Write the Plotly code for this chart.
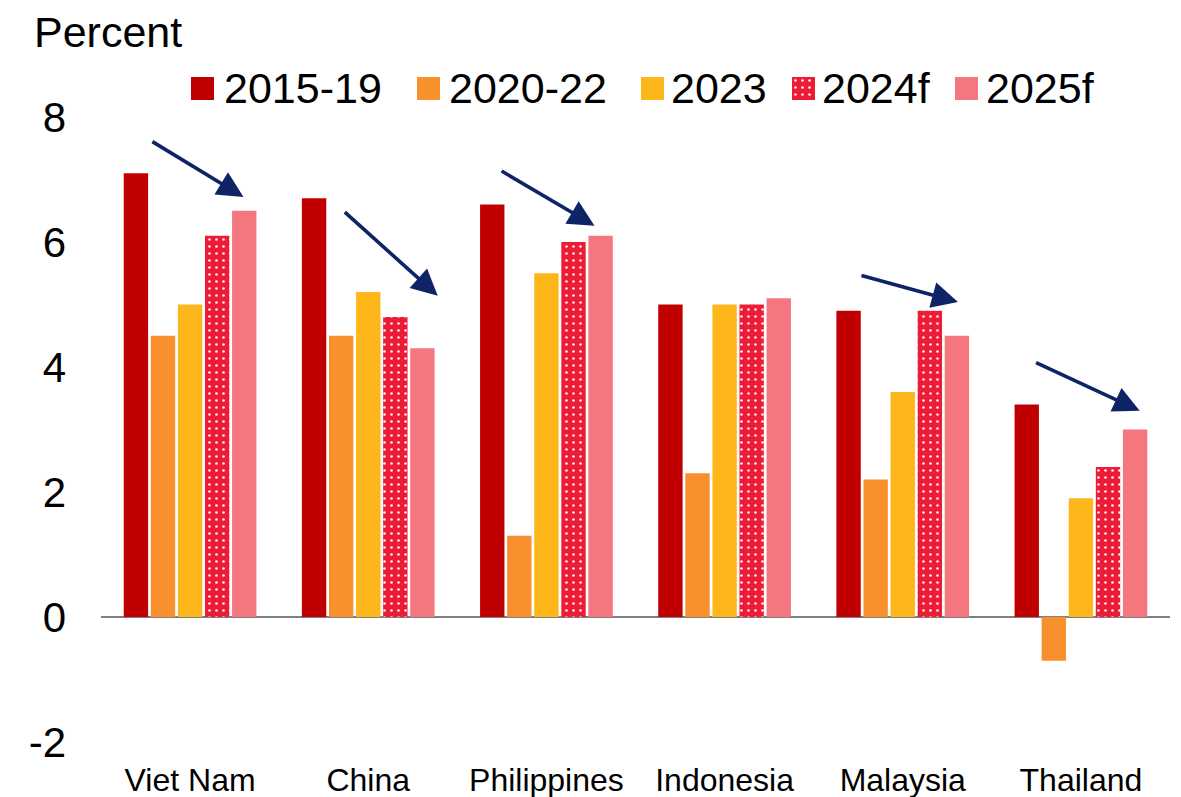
import plotly.graph_objects as go

countries = ["Viet Nam", "China", "Philippines", "Indonesia", "Malaysia", "Thailand"]
series_names = ["2015-19", "2020-22", "2023", "2024f", "2025f"]
v_2015_19 = [7.1, 6.7, 6.6, 5.0, 4.9, 3.4]
v_2020_22 = [4.5, 4.5, 1.3, 2.3, 2.2, -0.7]
v_2023 = [5.0, 5.2, 5.5, 5.0, 3.6, 1.9]
v_2024f = [6.1, 4.8, 6.0, 5.0, 4.9, 2.4]
v_2025f = [6.5, 4.3, 6.1, 5.1, 4.5, 3.0]
y_ticks = [-2, 0, 2, 4, 6, 8]
y_tick_labels = ["-2", "0", "2", "4", "6", "8"]

# arrows: (category index, start offset, start y, end offset, end y)
arrows = [
    (0, -0.22, 7.62, 0.30, 6.72),
    (1, -0.14, 6.50, 0.39, 5.14),
    (2, -0.26, 7.15, 0.27, 6.26),
    (4, -0.24, 5.47, 0.31, 5.04),
    (5, -0.26, 4.08, 0.33, 3.30),
]

colors = ["#C00000", "#F7902D", "#FDB71A", "#EC1C36", "#F4777F"]
values = [v_2015_19, v_2020_22, v_2023, v_2024f, v_2025f]
FONT = "Liberation Sans, Arial, sans-serif"

W, H = 1181, 797
ML, MR, MT, MB = 101, 11, 60, 55
PLOT_TOP = 117
plot_w = W - ML - MR
plot_h = H - MT - MB
main_top = (H - MB - PLOT_TOP) / plot_h


def px(x):
    return (x - ML) / plot_w


def py(y):
    return (H - MB - y) / plot_h


pattern = dict(shape=".", fillmode="replace", bgcolor=colors[3],
               fgcolor="#FFE5E8", size=7, solidity=0.12)

fig = go.Figure()
for name, vals, col in zip(series_names, values, colors):
    marker = dict(color=col, line=dict(width=0))
    if name == "2024f":
        marker["pattern"] = pattern
    fig.add_trace(go.Bar(x=countries, y=vals, name=name, marker=marker,
                         showlegend=False))

# manual legend (large squares)
legend_sq_left = [191, 417, 641, 792, 955]
legend_txt_left = [225, 450, 672, 823, 987]
SQ = 23
SQ_TOP = 77
for name, col, sx, tx in zip(series_names, colors, legend_sq_left, legend_txt_left):
    if name == "2024f":
        fig.add_trace(go.Bar(x=[0], y=[1], width=[1], xaxis="x2", yaxis="y2",
                             marker=dict(color=col, pattern=pattern,
                                         line=dict(width=0)),
                             showlegend=False, hoverinfo="skip"))
    else:
        fig.add_shape(type="rect", xref="paper", yref="paper",
                      x0=px(sx), x1=px(sx + SQ), y0=py(SQ_TOP + SQ), y1=py(SQ_TOP),
                      fillcolor=col, line=dict(width=0))
    fig.add_annotation(text=name, xref="paper", yref="paper", x=px(tx),
                       y=py(SQ_TOP + SQ / 2), xanchor="left", yanchor="middle",
                       showarrow=False, xshift=-3,
                       font=dict(size=43, color="black", family=FONT))

for ci, so, sy, eo, ey in arrows:
    fig.add_annotation(x=ci + eo, y=ey, ax=ci + so, ay=sy, xref="x", yref="y",
                       axref="x", ayref="y", text="", showarrow=True,
                       arrowhead=2, arrowsize=1.45, arrowwidth=3.6,
                       arrowcolor="#0E2466")

fig.add_annotation(text="Percent", xref="paper", yref="paper", x=px(35),
                   y=py(32), xanchor="left", yanchor="middle", showarrow=False,
                   xshift=-3, font=dict(size=43, color="black", family=FONT))

fig.update_layout(
    width=W, height=H,
    margin=dict(l=ML, r=MR, t=MT, b=MB),
    paper_bgcolor="white", plot_bgcolor="rgba(0,0,0,0)",
    barmode="group", bargap=0.24, bargroupgap=0.1,
    font=dict(family=FONT, color="black"),
    showlegend=False,
    xaxis=dict(showline=False, showgrid=False, ticks="", automargin=False,
               tickfont=dict(size=32, family=FONT), ticklabelstandoff=16),
    yaxis=dict(range=[-2, 8], domain=[0, main_top], tickvals=y_ticks,
               ticktext=y_tick_labels, showgrid=False, automargin=False,
               showline=False, zeroline=True, zerolinecolor="#7F7F7F",
               zerolinewidth=1.5, ticks="", tickfont=dict(size=42, family=FONT),
               ticklabelstandoff=34),
    xaxis2=dict(domain=[px(792), px(792 + SQ)], range=[-0.5, 0.5],
                anchor="y2", visible=False, fixedrange=True),
    yaxis2=dict(domain=[py(SQ_TOP + SQ), py(SQ_TOP)], range=[0, 1],
                anchor="x2", visible=False, fixedrange=True),
)

fig.write_html("out.html")
